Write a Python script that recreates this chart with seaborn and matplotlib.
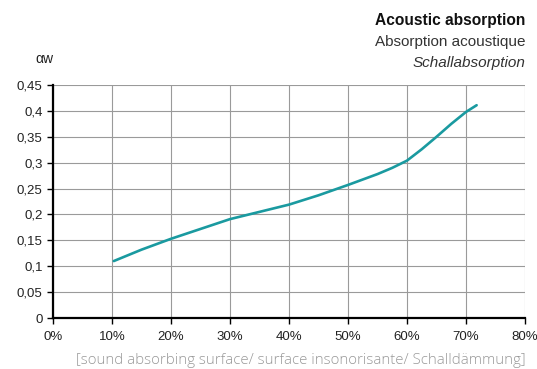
import matplotlib
matplotlib.use("Agg")
import matplotlib.pyplot as plt
import seaborn as sns
import pandas as pd

# values
surface_pct = [10.3, 15, 20, 25, 30, 35, 40, 45, 50, 55, 57.5, 60, 62.5, 65, 67.5, 70, 71.8]
alpha_w = [0.110, 0.132, 0.153, 0.172, 0.191, 0.205, 0.219, 0.237, 0.257, 0.278, 0.290,
           0.304, 0.326, 0.350, 0.375, 0.398, 0.411]

x_ticks = [0, 10, 20, 30, 40, 50, 60, 70, 80]
x_labels = [f"{v}%" for v in x_ticks]
y_ticks = [0, 0.05, 0.1, 0.15, 0.2, 0.25, 0.3, 0.35, 0.4, 0.45]
y_labels = ["0", "0,05", "0,1", "0,15", "0,2", "0,25", "0,3", "0,35", "0,4", "0,45"]

sns.set_style("white")
plt.rcParams["font.family"] = ["Liberation Sans", "DejaVu Sans"]

df = pd.DataFrame({"surface": surface_pct, "alpha": alpha_w})

fig = plt.figure(figsize=(5.37, 3.69), dpi=100)
ax = fig.add_axes([0.0987, 0.1382, 0.879, 0.6314])

sns.lineplot(data=df, x="surface", y="alpha", color="#1a9aa0", linewidth=1.9, ax=ax)

ax.set_xlim(0, 80)
ax.set_ylim(0, 0.45)
ax.set_xticks(x_ticks)
ax.set_xticklabels(x_labels)
ax.set_yticks(y_ticks)
ax.set_yticklabels(y_labels)
ax.tick_params(axis="both", direction="out", length=4, width=1, color="black",
               labelsize=9.5, labelcolor="#222222", bottom=True, left=True)
ax.tick_params(axis="x", pad=5)
ax.grid(True, color="#9a9a9a", linewidth=0.8)
ax.set_axisbelow(True)
ax.set_xlabel("")
ax.set_ylabel("")

for side in ["top", "right"]:
    ax.spines[side].set_visible(False)
for side in ["left", "bottom"]:
    ax.spines[side].set_color("black")
    ax.spines[side].set_linewidth(1.6)

fig.text(0.978, 0.932, "Acoustic absorption", ha="right", va="baseline",
         fontsize=11.2, fontweight="bold", color="#111111")
fig.text(0.978, 0.875, "Absorption acoustique", ha="right", va="baseline",
         fontsize=11, color="#333333")
fig.text(0.978, 0.818, "Schallabsorption", ha="right", va="baseline",
         fontsize=11, style="italic", color="#333333")
fig.text(0.083, 0.828, "αw", ha="center", va="baseline", fontsize=10, color="#222222")
fig.text(0.978, 0.002, "[sound absorbing surface/ surface insonorisante/ Schalldämmung]",
         ha="right", va="bottom", fontsize=10.8, color="#999999", fontweight="light",
         family=["Open Sans", "DejaVu Sans"])

fig.savefig("out.png", dpi=100)
